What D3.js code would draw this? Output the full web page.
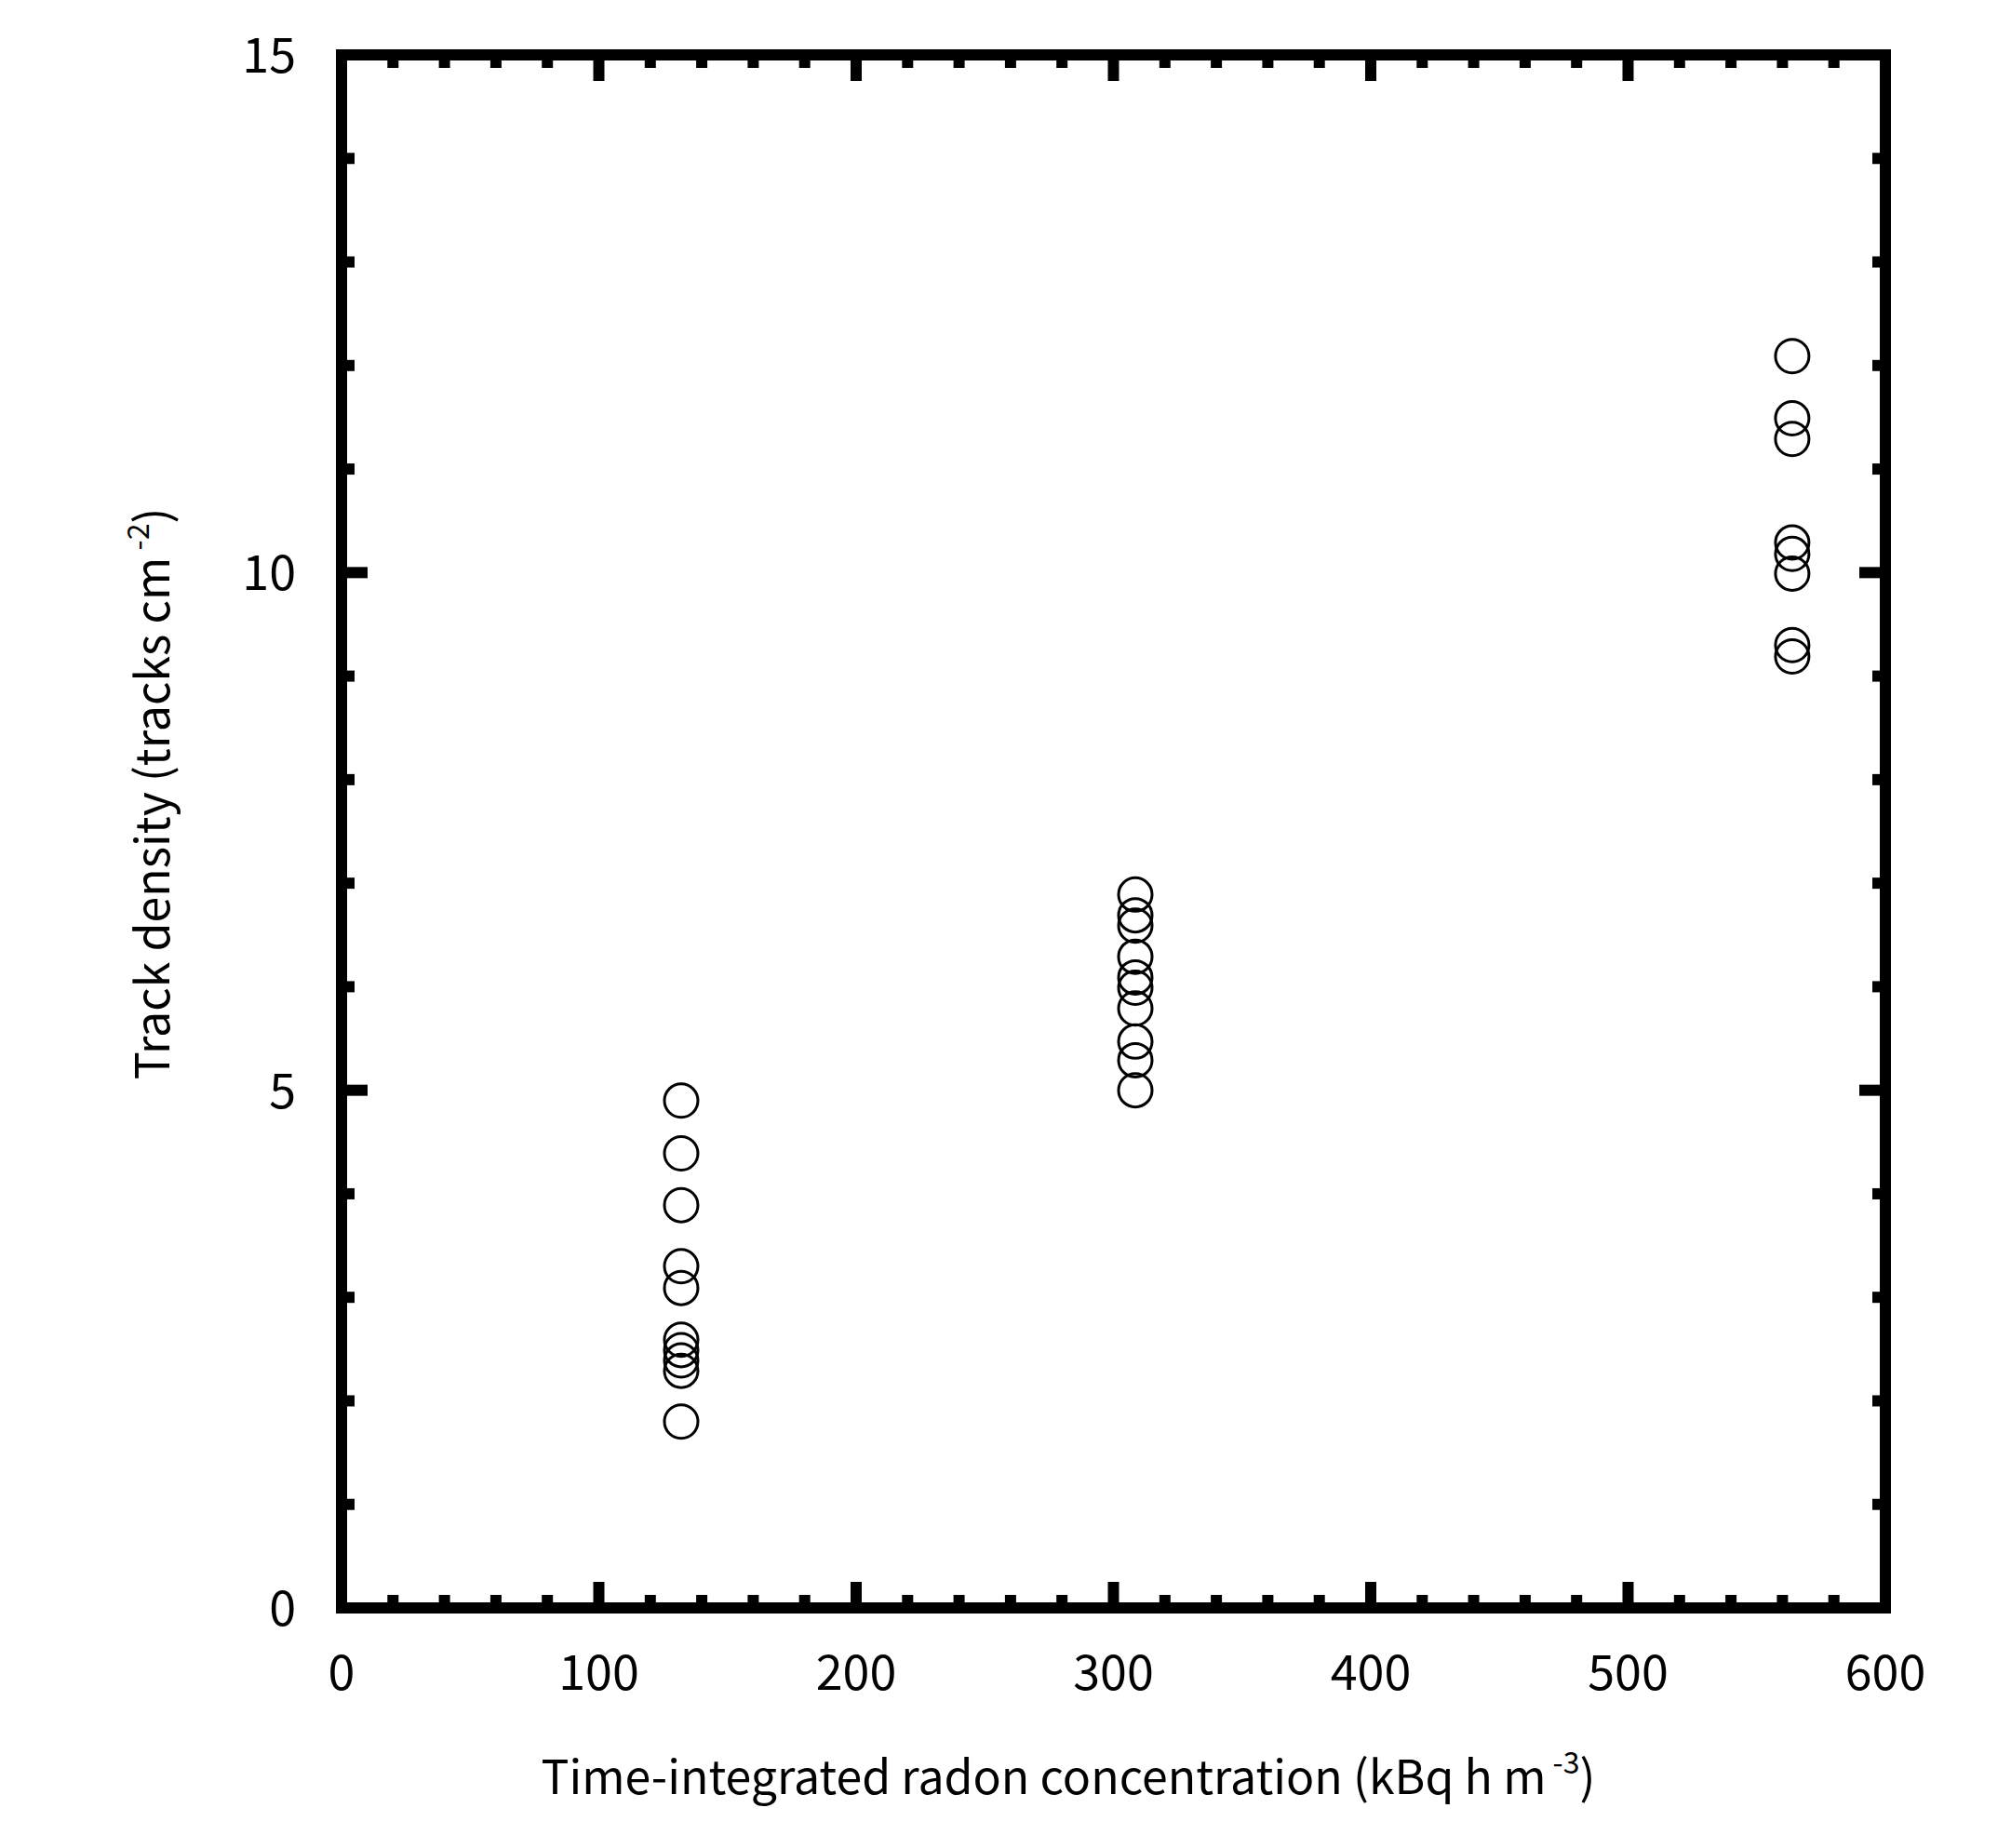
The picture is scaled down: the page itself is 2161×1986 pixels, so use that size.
<!DOCTYPE html>
<html><head><meta charset="utf-8">
<script src="https://cdn.jsdelivr.net/npm/d3@7"></script>
<style>body{margin:0;background:#fff}</style></head>
<body><svg id="c" width="2161" height="1986"></svg>
<script>
const xMajor = [0,100,200,300,400,500,600];
const yMajor = [0,5,10,15];
const g1x = 132, g1y = [4.90,4.39,3.89,3.30,3.09,2.59,2.49,2.39,2.29,1.80];
const g2x = 308.5, g2y = [6.89,6.69,6.59,6.29,6.09,5.99,5.79,5.47,5.29,5.00];
const g3x = 563.8, g3y = [12.09,11.49,11.29,10.29,10.18,9.99,9.30,9.19];
const font = "'Noto Sans CJK JP', 'DejaVu Sans', sans-serif";

const svg = d3.select("#c");
const L=367,R=2026,T=59,B=1728;
const x = d3.scaleLinear().domain([0,600]).range([L,R]);
const y = d3.scaleLinear().domain([0,15]).range([B,T]);
const xMinor = d3.range(0,601,20).filter(v=>v%100);
const yMinor = d3.range(0,16,1).filter(v=>v%5);
const tw=12, maj=28, mn=14;
const ticks = svg.append("g").attr("stroke","#000").attr("stroke-width",tw);
function xt(vals,len){vals.forEach(v=>{
  ticks.append("line").attr("x1",x(v)).attr("x2",x(v)).attr("y1",B).attr("y2",B-len);
  ticks.append("line").attr("x1",x(v)).attr("x2",x(v)).attr("y1",T).attr("y2",T+len);});}
function yt(vals,len){vals.forEach(v=>{
  ticks.append("line").attr("y1",y(v)).attr("y2",y(v)).attr("x1",L).attr("x2",L+len);
  ticks.append("line").attr("y1",y(v)).attr("y2",y(v)).attr("x1",R).attr("x2",R-len);});}
xt(xMajor,maj); xt(xMinor,mn); yt(yMajor,maj); yt(yMinor,mn);
svg.append("rect").attr("x",L).attr("y",T).attr("width",R-L).attr("height",B-T)
  .attr("fill","none").attr("stroke","#000").attr("stroke-width",12);

svg.append("g").selectAll("text").data(xMajor).join("text")
  .attr("x",d=>x(d)).attr("y",1816).attr("text-anchor","middle")
  .attr("font-family",font).attr("font-size",52).text(d=>d);
svg.append("g").selectAll("text").data(yMajor).join("text")
  .attr("x",318).attr("y",d=>y(d)+19).attr("text-anchor","end")
  .attr("font-family",font).attr("font-size",52).text(d=>d);

const pts = [];
g1y.forEach(v=>pts.push([g1x,v])); g2y.forEach(v=>pts.push([g2x,v])); g3y.forEach(v=>pts.push([g3x,v]));
svg.append("g").selectAll("circle").data(pts).join("circle")
  .attr("cx",d=>x(d[0])).attr("cy",d=>y(d[1])).attr("r",18)
  .attr("fill","none").attr("stroke","#000").attr("stroke-width",3);

const xt1 = svg.append("text").attr("x",1148).attr("y",1928).attr("text-anchor","middle")
  .attr("font-family",font).attr("font-size",50);
xt1.append("tspan").text("Time-integrated radon concentration (kBq h m");
xt1.append("tspan").attr("font-size",32).attr("dy",-22).text(" -3");
xt1.append("tspan").attr("dy",22).text(")");

const yt1 = svg.append("text").attr("transform","translate(182,853) rotate(-90)").attr("text-anchor","middle")
  .attr("font-family",font).attr("font-size",50);
yt1.append("tspan").text("Track density (tracks cm");
yt1.append("tspan").attr("font-size",32).attr("dy",-22).text(" -2");
yt1.append("tspan").attr("dy",22).text(")");
</script></body></html>
